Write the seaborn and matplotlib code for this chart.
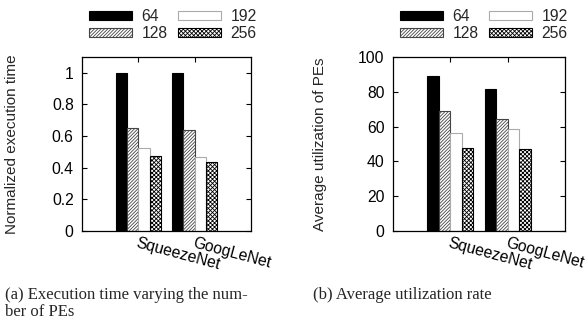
import matplotlib
matplotlib.use("Agg")
import matplotlib.pyplot as plt
from matplotlib.patches import Patch
import seaborn as sns
import pandas as pd

networks = ["SqueezeNet", "GoogLeNet"]
pe_counts = ["64", "128", "192", "256"]
exec_time = {
    "64": [1.0, 1.0],
    "128": [0.649, 0.637],
    "192": [0.527, 0.466],
    "256": [0.473, 0.435],
}
utilization = {
    "64": [88.9, 81.5],
    "128": [68.8, 64.4],
    "192": [56.6, 58.5],
    "256": [47.6, 47.0],
}
yticks_a = [0, 0.2, 0.4, 0.6, 0.8, 1]
yticklabels_a = ["0", "0.2", "0.4", "0.6", "0.8", "1"]
yticks_b = [0, 20, 40, 60, 80, 100]
ylabel_a = "Normalized execution time"
ylabel_b = "Average utilization of PEs"
caption_a = "(a) Execution time varying the num-\nber of PEs"
caption_b = "(b) Average utilization rate"

sns.set_style("ticks")
plt.rcParams["font.family"] = ["Liberation Sans", "DejaVu Sans"]
plt.rcParams["hatch.linewidth"] = 0.6

styles = {
    "64": dict(facecolor="black", edgecolor="black", hatch=None),
    "128": dict(facecolor="white", edgecolor="#444444", hatch="//////////"),
    "192": dict(facecolor="white", edgecolor="#aaaaaa", hatch=None),
    "256": dict(facecolor="white", edgecolor="black", hatch="xxxxxxxx"),
}


def make_df(d):
    rows = []
    for pe in pe_counts:
        for net, v in zip(networks, d[pe]):
            rows.append({"net": net, "pe": pe, "val": v})
    return pd.DataFrame(rows)


fig = plt.figure(figsize=(5.87, 3.29), dpi=100)
ax_a = fig.add_axes([82 / 587, 1 - 231 / 329, 169 / 587, 174 / 329])
ax_b = fig.add_axes([393 / 587, 1 - 231 / 329, 172 / 587, 174 / 329])

FS = 11.3
LFS = 11

for ax, d, ylim, yt, ytl, ylab, lx in [
    (ax_a, exec_time, (0, 1.1), yticks_a, yticklabels_a, ylabel_a, (19 - 82) / 169),
    (ax_b, utilization, (0, 100), yticks_b, [str(t) for t in yticks_b], ylabel_b, (327 - 393) / 172),
]:
    df = make_df(d)
    sns.barplot(data=df, x="net", y="val", hue="pe", hue_order=pe_counts,
                order=networks, ax=ax, width=0.8, legend=False, saturation=1)
    for pe, cont in zip(pe_counts, ax.containers):
        st = styles[pe]
        for p in cont:
            p.set_facecolor(st["facecolor"])
            p.set_edgecolor(st["edgecolor"])
            p.set_linewidth(0.8)
            if st["hatch"]:
                p.set_hatch(st["hatch"])
    ax.set_xlim(-1, 2)
    ax.set_ylim(*ylim)
    ax.set_yticks(yt)
    ax.set_yticklabels(ytl, fontsize=FS)
    ax.set_xticks([0, 1])
    ax.set_xticklabels(networks, fontsize=FS, rotation=-15, ha="left",
                       va="top", rotation_mode="anchor")
    ax.set_xlabel("")
    ax.set_ylabel(ylab, fontsize=LFS)
    ax.yaxis.set_label_coords(lx, 0.5)
    ax.tick_params(direction="in", top=True, right=True, length=3.5,
                   width=0.8, color="black", labelcolor="black")
    ax.tick_params(axis="x", pad=3)
    ax.tick_params(axis="y", pad=6)
    for s in ax.spines.values():
        s.set_visible(True)
        s.set_linewidth(0.9)
        s.set_color("black")

    handles = [Patch(facecolor=styles[pe]["facecolor"], edgecolor=styles[pe]["edgecolor"],
                     hatch=styles[pe]["hatch"], linewidth=0.8, label=pe) for pe in pe_counts]
    pos = ax.get_position()
    leg = fig.legend(handles=handles, ncol=2, loc="upper left",
                     bbox_to_anchor=(pos.x0 + 4 / 587, 1 - 6 / 329),
                     frameon=False, fontsize=FS, handlelength=2.75, handleheight=0.5,
                     handletextpad=0.6, columnspacing=0.65, labelspacing=0.15,
                     borderpad=0.2, borderaxespad=0)

fig.text(5 / 587, 1 - 287 / 329, caption_a, family=["Liberation Serif", "DejaVu Serif"],
         fontsize=12, va="top", ha="left", linespacing=1.12)
fig.text(313 / 587, 1 - 287 / 329, caption_b, family=["Liberation Serif", "DejaVu Serif"],
         fontsize=12, va="top", ha="left")

fig.savefig("out.png", dpi=100, facecolor="white")
